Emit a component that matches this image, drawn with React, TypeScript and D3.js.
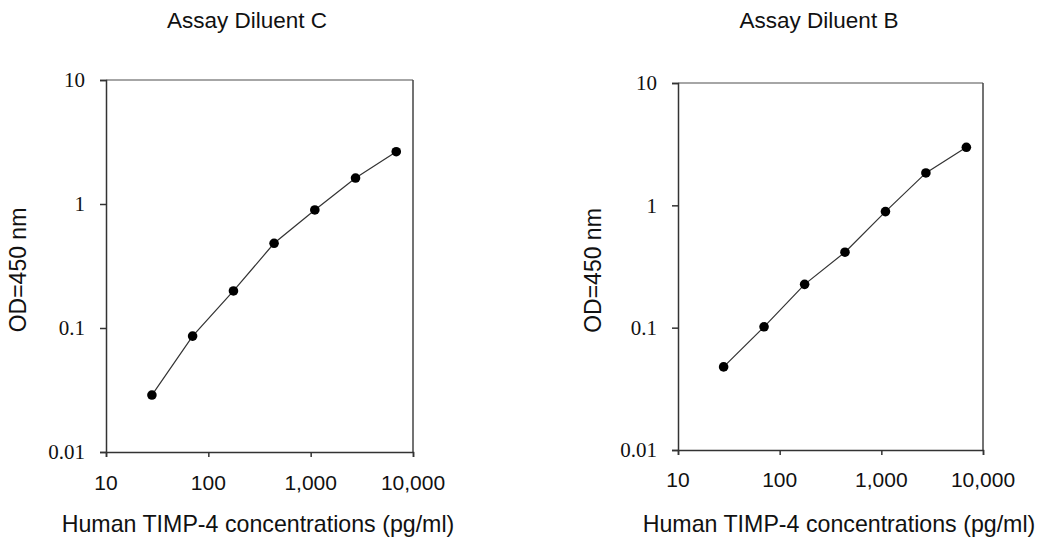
import React, { useEffect, useRef } from "react";
import * as d3 from "d3";

// standard concentrations (pg/ml), 2.5-fold dilutions
const concentrations = [28.1, 70.2, 176, 439, 1098, 2744, 6860];
const odDiluentC = [0.0288, 0.086, 0.199, 0.482, 0.895, 1.62, 2.64];
const odDiluentB = [0.0478, 0.1016, 0.226, 0.414, 0.889, 1.84, 2.98];
const xTicks = [10, 100, 1000, 10000];
const yTicks = [0.01, 0.1, 1, 10];
const titles = ["Assay Diluent C", "Assay Diluent B"];

const W = 1039;
const H = 539;

const App: React.FC = () => {
  const ref = useRef<SVGSVGElement | null>(null);

  useEffect(() => {
    const svg = d3.select(ref.current);
    svg.selectAll("*").remove();

    const panels = [
      { title: titles[0], values: odDiluentC, x0: 106, x1: 413, y0: 452, y1: 80, titleX: 247, labelX: 258, yLabelX: 26, tickY: 490 },
      { title: titles[1], values: odDiluentB, x0: 678, x1: 983, y0: 450, y1: 83, titleX: 819, labelX: 839, yLabelX: 601, tickY: 487 },
    ];

    panels.forEach((p) => {
      const x = d3.scaleLog().domain([10, 10000]).range([p.x0, p.x1]);
      const y = d3.scaleLog().domain([0.01, 10]).range([p.y0, p.y1]);
      const g = svg.append("g");

      // frame: top and right
      g.append("line")
        .attr("x1", p.x0).attr("x2", p.x1).attr("y1", p.y1).attr("y2", p.y1)
        .attr("stroke", "#888").attr("stroke-width", 1.5);
      g.append("line")
        .attr("x1", p.x1).attr("x2", p.x1).attr("y1", p.y1).attr("y2", p.y0)
        .attr("stroke", "#444").attr("stroke-width", 1.5);

      // axes
      const xAxis = g.append("g")
        .attr("transform", `translate(0,${p.y0})`)
        .call(d3.axisBottom(x).tickValues(xTicks).tickSize(5).tickFormat(() => ""));
      const yAxis = g.append("g")
        .attr("transform", `translate(${p.x0},0)`)
        .call(d3.axisLeft(y).tickValues(yTicks).tickSize(6).tickFormat(() => ""));
      [xAxis, yAxis].forEach((a) => {
        a.select(".domain").attr("stroke", "#333").attr("stroke-width", 1.5);
        a.selectAll(".tick line").attr("stroke", "#333").attr("stroke-width", 1.5);
      });

      // tick labels
      g.selectAll(".xt")
        .data(xTicks)
        .enter()
        .append("text")
        .attr("x", (d) => x(d))
        .attr("y", p.tickY)
        .attr("text-anchor", "middle")
        .attr("font-family", "Liberation Sans, Arial, sans-serif")
        .attr("font-size", 21)
        .attr("fill", "#111")
        .text((d) => d3.format(",")(d));

      g.selectAll(".yt")
        .data(yTicks)
        .enter()
        .append("text")
        .attr("x", p.x0 - 21)
        .attr("y", (d) => y(d))
        .attr("dy", "0.35em")
        .attr("text-anchor", "end")
        .attr("font-family", "Liberation Serif, Times New Roman, serif")
        .attr("font-size", 21)
        .attr("fill", "#111")
        .text((d) => String(d));

      // titles and labels
      g.append("text")
        .attr("x", p.titleX)
        .attr("y", 28)
        .attr("text-anchor", "middle")
        .attr("font-family", "Liberation Sans, Arial, sans-serif")
        .attr("font-size", 22.5)
        .attr("fill", "#111")
        .text(p.title);

      g.append("text")
        .attr("x", p.labelX)
        .attr("y", 532)
        .attr("text-anchor", "middle")
        .attr("font-family", "Liberation Sans, Arial, sans-serif")
        .attr("font-size", 23.2)
        .attr("fill", "#111")
        .text("Human TIMP-4 concentrations (pg/ml)");

      g.append("text")
        .attr("transform", `translate(${p.yLabelX},${(p.y0 + p.y1) / 2 + 4}) rotate(-90)`)
        .attr("text-anchor", "middle")
        .attr("font-family", "Liberation Sans, Arial, sans-serif")
        .attr("font-size", 23)
        .attr("fill", "#111")
        .text("OD=450 nm");

      // curve
      const pts = concentrations.map((c, i) => ({ c, od: p.values[i] }));
      const line = d3
        .line<{ c: number; od: number }>()
        .x((d) => x(d.c))
        .y((d) => y(d.od));

      g.append("path")
        .datum(pts)
        .attr("fill", "none")
        .attr("stroke", "#333")
        .attr("stroke-width", 1.2)
        .attr("d", line);

      g.selectAll(".dot")
        .data(pts)
        .enter()
        .append("circle")
        .attr("cx", (d) => x(d.c))
        .attr("cy", (d) => y(d.od))
        .attr("r", 4.8)
        .attr("fill", "#000");
    });
  }, []);

  return (
    <svg
      ref={ref}
      width={W}
      height={H}
      style={{ position: "absolute", left: 0, top: 0, background: "#fff" }}
    ></svg>
  );
};

export default App;
